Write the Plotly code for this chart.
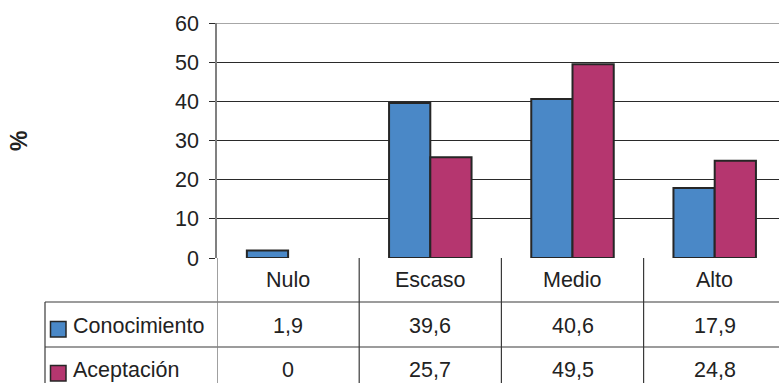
import plotly.graph_objects as go

categories = ["Nulo", "Escaso", "Medio", "Alto"]
conocimiento = [1.9, 39.6, 40.6, 17.9]
aceptacion = [0, 25.7, 49.5, 24.8]
series_names = ["Conocimiento", "Aceptación"]
y_ticks = [0, 10, 20, 30, 40, 50, 60]

W, H = 779, 383
BLUE = "#4A88C7"
MAG = "#B5366F"
EDGE = "#262626"
FONT = "Liberation Sans, Arial, sans-serif"
FS = 21.5


def px(p):
    return p / W


def py(p):
    return 1 - p / H


def fmt(v):
    return ("%g" % v).replace(".", ",")


def edge_widths(vals):
    return [2 if v != 0 else 0 for v in vals]


xs = list(range(len(categories)))

fig = go.Figure()
fig.add_trace(go.Bar(x=xs, y=conocimiento, name=series_names[0],
                     marker=dict(color=BLUE, line=dict(color=EDGE, width=edge_widths(conocimiento)))))
fig.add_trace(go.Bar(x=xs, y=aceptacion, name=series_names[1],
                     marker=dict(color=MAG, line=dict(color=EDGE, width=edge_widths(aceptacion)))))

plot_left, plot_top, plot_bottom = 217, 23, 258
cat_w = 142.2
right_range = -0.5 + (W - plot_left) / cat_w

shapes = []
ann = []
line_c = "#3a3a3a"
# lighter top gridline at 60
shapes.append(dict(type="line", xref="x", yref="y", x0=-0.5, x1=right_range, y0=60, y1=60,
                   line=dict(color="#8a8a8a", width=1.5), layer="above"))
# table horizontal lines
for yy in [302, 347]:
    shapes.append(dict(type="line", xref="paper", yref="paper", x0=px(45), x1=1.0,
                       y0=py(yy), y1=py(yy), line=dict(color=line_c, width=1.2)))
# vertical lines at category boundaries
for b in [0.5, 1.5, 2.5]:
    shapes.append(dict(type="line", xref="x", yref="paper", x0=b, x1=b,
                       y0=py(plot_bottom), y1=0, line=dict(color=line_c, width=1.2)))
# continuation of the axis line down through the table
shapes.append(dict(type="line", xref="x", yref="paper", x0=-0.5, x1=-0.5,
                   y0=py(plot_bottom), y1=0, line=dict(color="#808080", width=1.5)))
# left border of table
shapes.append(dict(type="line", xref="paper", yref="paper", x0=px(45), x1=px(45),
                   y0=py(302), y1=0, line=dict(color=line_c, width=1.2)))

# header row
for i, c in enumerate(categories):
    ann.append(dict(x=i, y=py(280), xref="x", yref="paper", text=c, showarrow=False,
                    xanchor="center", font=dict(size=FS, color="#222", family=FONT),
                    yanchor="middle"))

rows = [(conocimiento, BLUE, 326), (aceptacion, MAG, 370)]
for (vals, col, yc), name in zip(rows, series_names):
    for i, v in enumerate(vals):
        ann.append(dict(x=i, y=py(yc), xref="x", yref="paper", text=fmt(v), showarrow=False,
                        xanchor="center", font=dict(size=FS, color="#222", family=FONT),
                        yanchor="middle"))
    ann.append(dict(x=px(71), y=py(yc), xref="paper", yref="paper", text=name, showarrow=False,
                    xanchor="left", font=dict(size=FS, color="#222", family=FONT),
                    yanchor="middle"))
    shapes.append(dict(type="rect", xref="paper", yref="paper", x0=px(50.5), x1=px(66),
                       y0=py(yc + 11), y1=py(yc - 4.5), fillcolor=col,
                       line=dict(color=EDGE, width=1.5)))

ann.append(dict(x=px(19), y=py(141), xref="paper", yref="paper", text="<b>%</b>", showarrow=False,
                xanchor="center", yanchor="middle",
                textangle=-90, font=dict(size=23, color="#222", family=FONT)))

fig.update_layout(
    width=W, height=H, margin=dict(l=0, r=0, t=0, b=0, autoexpand=False),
    paper_bgcolor="white", plot_bgcolor="white",
    barmode="group", bargap=0.42, bargroupgap=0,
    showlegend=False,
    shapes=shapes, annotations=ann,
    xaxis=dict(domain=[px(plot_left), 1.0], range=[-0.5, right_range], showticklabels=False,
               showgrid=False, zeroline=False, showline=False, ticks="", automargin=False),
    yaxis=dict(domain=[py(plot_bottom), py(plot_top)], range=[0, 60], tickvals=y_ticks,
               showgrid=True, gridcolor="#2a2a2a", gridwidth=1.2, zeroline=False,
               showline=True, linecolor="#808080", linewidth=1.5,
               ticks="outside", ticklen=6, tickcolor="#2a2a2a", tickwidth=1.2,
               ticklabelstandoff=6, automargin=False,
               tickfont=dict(size=FS, color="#222", family=FONT)),
)

fig.write_html("out.html")
